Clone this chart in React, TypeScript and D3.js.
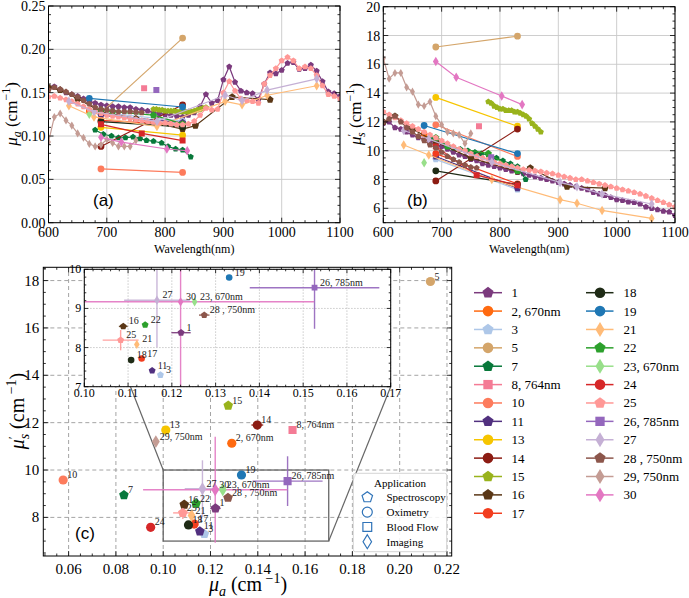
import React from 'react';
import * as d3 from 'd3';

// ---------- series definitions ----------
const SERIES_IDS = ['1','2','3','5','7','8','10','11','13','14','15','16','17','18','19','21','22','23','24','25','26','27','28','29','30'];
const SERIES_LABELS = ['1','2, 670nm','3','5','7','8, 764nm','10','11','13','14','15','16','17','18','19','21','22','23, 670nm','24','25','26, 785nm','27','28 , 750nm','29, 750nm','30'];
const SERIES_COLORS = ['#7b3a7d','#ff6a10','#aec7e8','#d4a56a','#08783a','#f47b95','#fd7b5c','#51307f','#f6c500','#8c1c13','#99b31c','#5a3716','#f23d1e','#1f2b16','#1f77b4','#ffbb78','#2ca02c','#98df8a','#d62728','#ff9896','#9467bd','#c5b0d5','#8c564b','#c49c94','#e377c2'];
const SERIES_MARKERS = ['p','o','p','o','p','s','o','p','o','o','p','p','o','o','o','d','p','d','o','p','s','d','p','d','d'];

// ---------- panel (c) scatter values ----------
const SC_MUA = [0.1221,0.129,0.1174,0.213,0.0834,0.1547,0.0577,0.1155,0.1011,0.1398,0.1275,0.1089,0.1131,0.1107,0.1331,0.1120,0.1139,0.1252,0.0947,0.1083,0.1526,0.1166,0.1274,0.0969,0.1220];
const SC_MUS = [8.38,11.13,7.30,17.96,8.94,11.69,9.58,7.41,11.69,11.90,12.72,8.54,7.72,7.68,9.79,8.08,8.58,9.17,7.58,8.19,9.53,9.21,8.83,11.2,9.17];
const SC_XERR = [0.0022,0,0,0,0,0,0,0,0,0.0025,0,0.001,0,0,0,0,0,0,0,0.0041,0.0148,0.0075,0.0012,0,0.0305];
const SC_YERR = [0,0,0,0,0,0,0,0,0,0,0,0,0,0,0,0,0,0,0,0.26,1.05,1.2,0,0,2.24];

// ---------- spectra for panels (a) and (b) ----------
const WL_DENSE = [600,610,620,630,640,650,660,670,680,690,700,710,720,730,740,750,760,770,780,790,800,810,820,830,840,850,860,870,880,890,900,910,920,930,940,950,960,970,980,990,1000,1010,1020,1030,1040,1050,1060,1070,1080,1090,1100];
const MUA_1 = [0.155,0.157,0.153,0.150,0.148,0.146,0.143,0.140,0.138,0.136,0.135,0.134,0.134,0.133,0.133,0.131,0.130,0.129,0.127,0.126,0.125,0.124,0.123,0.122,0.124,0.127,0.134,0.148,0.138,0.141,0.165,0.180,0.162,0.152,0.150,0.149,0.142,0.160,0.173,0.172,0.176,0.184,0.185,0.177,0.178,0.182,0.175,0.163,0.151,0.149,0.146];
const MUS_1 = [11.9,12.0,11.6,11.5,11.3,11.1,10.9,10.8,10.6,10.4,10.3,10.1,9.9,9.7,9.6,9.4,9.3,9.1,9.0,8.9,8.8,8.7,8.6,8.5,8.4,8.3,8.2,8.1,8.0,7.9,7.8,7.7,7.6,7.5,7.4,7.3,7.1,7.0,6.9,6.75,6.6,6.55,6.45,6.4,6.3,6.1,6.0,5.9,5.8,5.75,5.5];
const MUA_25 = [0.145,0.146,0.144,0.142,0.140,0.137,0.134,0.131,0.128,0.126,0.124,0.123,0.122,0.121,0.120,0.119,0.118,0.117,0.116,0.115,0.115,0.114,0.113,0.113,0.114,0.117,0.124,0.132,0.130,0.131,0.150,0.163,0.152,0.143,0.141,0.140,0.138,0.160,0.170,0.178,0.187,0.191,0.187,0.178,0.180,0.178,0.170,0.158,0.148,0.146,0.143];
const MUS_25 = [12.7,12.5,12.3,12.1,11.9,11.7,11.5,11.3,11.1,10.9,10.7,10.5,10.3,10.1,10.0,9.8,9.6,9.5,9.4,9.2,9.1,9.0,8.9,8.8,8.7,8.65,8.6,8.55,8.45,8.4,8.3,8.2,8.1,8.0,8.0,7.9,7.8,7.7,7.6,7.5,7.4,7.3,7.2,7.1,7.0,6.85,6.7,6.55,6.4,6.25,6.1];

const WL_28 = [600,610,620,630,640,650,660,670,680,690,700,710,720,730,740,750,760];
const MUA_28 = [0.153,0.156,0.154,0.151,0.148,0.145,0.141,0.137,0.133,0.131,0.130,0.129,0.128,0.128,0.128,0.1275,0.127];
const MUS_28 = [12.0,12.2,12.4,12.0,11.6,11.3,11.0,10.7,10.4,10.2,9.9,9.6,9.4,9.2,9.0,8.85,8.8];

const WL_29 = [600,610,620,630,640,650,660,670,680,690,700,710,720,730,740,750];
const MUA_29 = [0.093,0.122,0.126,0.118,0.112,0.103,0.098,0.091,0.088,0.090,0.096,0.092,0.088,0.088,0.088,0.095];
const MUS_29 = [16.4,15.0,15.4,15.4,14.4,14.1,13.2,13.1,13.4,12.4,11.8,11.3,11.2,11.1,10.5,11.2];

const WL_7 = [680,694,708,720,732,745,757,768,780,794,805,818,830,844];
const MUA_7 = [0.107,0.102,0.100,0.098,0.098,0.099,0.097,0.095,0.094,0.092,0.088,0.085,0.084,0.076];
const MUS_7 = [10.9,10.7,10.4,10.2,10.1,10.0,9.9,9.8,9.7,9.5,9.3,9.1,8.9,8.0];

const WL_15 = [780,785,790,795,800,805,810,815,820,825,830,835,840,845,850,855,860,865,870];
const MUA_15 = [0.131,0.131,0.130,0.130,0.129,0.129,0.129,0.129,0.128,0.128,0.128,0.128,0.128,0.128,0.129,0.130,0.131,0.132,0.133];
const MUS_15 = [13.4,13.3,13.1,13.0,12.9,12.9,12.8,12.8,12.8,12.7,12.7,12.6,12.5,12.4,12.2,11.9,11.7,11.5,11.3];

const WL_16 = [600,620,650,690,750,830,852,915,980];
const MUA_16 = [0.156,0.153,0.143,0.128,0.120,0.108,0.112,0.145,0.142];
const MUS_16 = [12.0,12.4,11.5,10.6,9.5,8.55,8.8,7.5,7.4];

const WL_21 = [635,678,786,903,932,975,1060];
const MUA_21 = [0.135,0.122,0.111,0.140,0.136,0.147,0.158];
const MUS_21 = [10.4,9.7,8.0,6.6,6.35,5.85,5.3];

const WL_27 = [635,678,786,903,932,975,1060];
const MUA_27 = [0.140,0.128,0.117,0.147,0.141,0.153,0.166];
const MUS_27 = [11.4,10.8,9.2,7.8,7.5,7.0,6.3];

const WL_30 = [690,725,803,838];
const MUA_30 = [0.0985,0.093,0.085,0.083];
const MUS_30 = [16.2,15.1,13.8,13.2];

const WL_22 = [690,710,780,830];
const MUA_22 = [0.130,0.128,0.124,0.114];
const MUS_22 = [10.9,10.3,9.8,8.6];

const WL_24 = [690,760,830];
const MUA_24 = [0.1135,0.103,0.0947];
const MUS_24 = [10.3,8.3,7.6];

const WL_PAIR = [690,830];
const MUA_3 = [0.127,0.1174]; const MUS_3 = [9.4,7.3];
const MUA_5 = [0.127,0.213]; const MUS_5 = [17.2,17.95];
const MUA_10 = [0.062,0.058]; const MUS_10 = [11.8,9.6];
const MUA_11 = [0.124,0.1155]; const MUS_11 = [9.6,7.4];
const MUA_13 = [0.110,0.101]; const MUS_13 = [13.7,11.7];
const MUA_14 = [0.088,0.136]; const MUS_14 = [7.9,11.5];
const MUA_17 = [0.118,0.113]; const MUS_17 = [9.8,7.7];
const MUA_18 = [0.1165,0.1105]; const MUS_18 = [8.6,7.65];
const WL_19 = [670,830];
const MUA_19 = [0.1435,0.1335]; const MUS_19 = [11.75,9.8];
const WL_2 = [670]; const MUA_2 = [0.129]; const MUS_2 = [11.13];
const WL_23 = [670]; const MUA_23 = [0.1251]; const MUS_23 = [9.17];
const WL_8 = [764]; const MUA_8 = [0.155]; const MUS_8 = [11.7];
const WL_26 = [785]; const MUA_26 = [0.153]; const MUS_26 = [9.55];

// ---------- ticks ----------
const A_XTICKS = [600,700,800,900,1000,1100];
const A_YTICKS = [0,0.05,0.10,0.15,0.20,0.25];
const B_YTICKS = [6,8,10,12,14,16,18,20];
const C_XTICKS = [0.06,0.08,0.10,0.12,0.14,0.16,0.18,0.20,0.22];
const C_YTICKS = [8,10,12,14,16,18];
const I_XTICKS = [0.10,0.11,0.12,0.13,0.14,0.15,0.16,0.17];
const I_YTICKS = [7,8,9,10];
const APP_LABELS = ['Spectroscopy','Oximetry','Blood Flow','Imaging'];
const APP_MARKERS = ['p','o','s','d'];

const SPECTRA = [
  { id: '1', wl: WL_DENSE, mua: MUA_1, mus: MUS_1, dense: true },
  { id: '2', wl: WL_2, mua: MUA_2, mus: MUS_2 },
  { id: '3', wl: WL_PAIR, mua: MUA_3, mus: MUS_3 },
  { id: '5', wl: WL_PAIR, mua: MUA_5, mus: MUS_5 },
  { id: '7', wl: WL_7, mua: MUA_7, mus: MUS_7, dense: true },
  { id: '8', wl: WL_8, mua: MUA_8, mus: MUS_8 },
  { id: '10', wl: WL_PAIR, mua: MUA_10, mus: MUS_10 },
  { id: '11', wl: WL_PAIR, mua: MUA_11, mus: MUS_11 },
  { id: '13', wl: WL_PAIR, mua: MUA_13, mus: MUS_13 },
  { id: '14', wl: WL_PAIR, mua: MUA_14, mus: MUS_14 },
  { id: '15', wl: WL_15, mua: MUA_15, mus: MUS_15, dense: true },
  { id: '16', wl: WL_16, mua: MUA_16, mus: MUS_16 },
  { id: '17', wl: WL_PAIR, mua: MUA_17, mus: MUS_17 },
  { id: '18', wl: WL_PAIR, mua: MUA_18, mus: MUS_18 },
  { id: '19', wl: WL_19, mua: MUA_19, mus: MUS_19 },
  { id: '21', wl: WL_21, mua: MUA_21, mus: MUS_21 },
  { id: '22', wl: WL_22, mua: MUA_22, mus: MUS_22 },
  { id: '23', wl: WL_23, mua: MUA_23, mus: MUS_23 },
  { id: '24', wl: WL_24, mua: MUA_24, mus: MUS_24, marker: 's' },
  { id: '25', wl: WL_DENSE, mua: MUA_25, mus: MUS_25, dense: true },
  { id: '26', wl: WL_26, mua: MUA_26, mus: MUS_26 },
  { id: '27', wl: WL_27, mua: MUA_27, mus: MUS_27 },
  { id: '28', wl: WL_28, mua: MUA_28, mus: MUS_28, dense: true },
  { id: '29', wl: WL_29, mua: MUA_29, mus: MUS_29, dense: true },
  { id: '30', wl: WL_30, mua: MUA_30, mus: MUS_30 },
];

const SERIF = "'Liberation Serif','DejaVu Serif','Times New Roman',serif";
const SANS = "'Liberation Sans','DejaVu Sans',Arial,sans-serif";

function markerPath(m: string, r: number): string {
  if (m === 'o') return `M${r},0A${r},${r},0,1,1,${-r},0A${r},${r},0,1,1,${r},0Z`;
  if (m === 's') { const s = r * 0.88; return `M${-s},${-s}H${s}V${s}H${-s}Z`; }
  if (m === 'd') { const h = r * 1.4, w = r * 0.85; return `M0,${-h}L${w},0L0,${h}L${-w},0Z`; }
  const R = r * 1.1;
  const pts = [0, 1, 2, 3, 4].map(k => {
    const a = -Math.PI / 2 + k * 2 * Math.PI / 5;
    return `${(R * Math.cos(a)).toFixed(2)},${(R * Math.sin(a)).toFixed(2)}`;
  });
  return 'M' + pts.join('L') + 'Z';
}

function idx(id: string) { return SERIES_IDS.indexOf(id); }

function frameTicks(xs: any, ys: any, xMaj: number[], xMinStep: number, yMaj: number[], yMinStep: number, key: string, maj = 5, min = 2.5) {
  const [x0, x1] = xs.range();
  const [y0, y1] = ys.range();
  const [dx0, dx1] = xs.domain();
  const [dy0, dy1] = ys.domain();
  const els: any[] = [];
  const eps = 1e-9;
  const xMin = d3.range(Math.ceil(dx0 / xMinStep - eps) * xMinStep, dx1 + eps, xMinStep).filter(v => !xMaj.some(m => Math.abs(m - v) < xMinStep / 10));
  const yMin = d3.range(Math.ceil(dy0 / yMinStep - eps) * yMinStep, dy1 + eps, yMinStep).filter(v => !yMaj.some(m => Math.abs(m - v) < yMinStep / 10));
  const st = { stroke: '#000', strokeWidth: 0.8 };
  xMaj.forEach((v, i) => { const X = xs(v); els.push(<line key={`${key}xM${i}`} x1={X} x2={X} y1={y0} y2={y0 - maj} {...st} />, <line key={`${key}xMt${i}`} x1={X} x2={X} y1={y1} y2={y1 + maj} {...st} />); });
  xMin.forEach((v, i) => { const X = xs(v); els.push(<line key={`${key}xm${i}`} x1={X} x2={X} y1={y0} y2={y0 - min} {...st} />, <line key={`${key}xmt${i}`} x1={X} x2={X} y1={y1} y2={y1 + min} {...st} />); });
  yMaj.forEach((v, i) => { const Y = ys(v); els.push(<line key={`${key}yM${i}`} y1={Y} y2={Y} x1={x0} x2={x0 + maj} {...st} />, <line key={`${key}yMt${i}`} y1={Y} y2={Y} x1={x1} x2={x1 - maj} {...st} />); });
  yMin.forEach((v, i) => { const Y = ys(v); els.push(<line key={`${key}ym${i}`} y1={Y} y2={Y} x1={x0} x2={x0 + min} {...st} />, <line key={`${key}ymt${i}`} y1={Y} y2={Y} x1={x1} x2={x1 - min} {...st} />); });
  return els;
}

function SpectrumPanel({ xs, ys, field, clipId, yTicks, yFmt, yMinStep, tag, tagX }: any) {
  const [x0, x1] = xs.range();
  const [y0, y1] = ys.range();
  const line = d3.line<[number, number]>().x(d => xs(d[0])).y(d => ys(d[1]));
  return (
    <g>
      <defs><clipPath id={clipId}><rect x={x0} y={y1} width={x1 - x0} height={y0 - y1} /></clipPath></defs>
      {A_XTICKS.map(v => <line key={'gx' + v} x1={xs(v)} x2={xs(v)} y1={y0} y2={y1} stroke="#c8c8c8" strokeWidth={0.9} />)}
      {yTicks.map((v: number) => <line key={'gy' + v} y1={ys(v)} y2={ys(v)} x1={x0} x2={x1} stroke="#c8c8c8" strokeWidth={0.9} />)}
      <g clipPath={`url(#${clipId})`}>
        {SPECTRA.map(s => {
          const i = idx(s.id);
          const col = SERIES_COLORS[i];
          const vals = field === 'mua' ? s.mua : s.mus;
          const pts: [number, number][] = s.wl.map((w, k) => [w, vals[k]]);
          const mk = (s as any).marker || SERIES_MARKERS[i];
          const r = (s as any).dense ? 2.9 : 3.4;
          return (
            <g key={s.id}>
              {pts.length > 1 && <path d={line(pts) || ''} fill="none" stroke={col} strokeWidth={1.2} />}
              {pts.map((p, k) => <path key={k} d={markerPath(mk, r)} transform={`translate(${xs(p[0])},${ys(p[1])})`} fill={col} />)}
            </g>
          );
        })}
      </g>
      <rect x={x0} y={y1} width={x1 - x0} height={y0 - y1} fill="none" stroke="#000" strokeWidth={1} />
      {frameTicks(xs, ys, A_XTICKS, 20, yTicks, yMinStep, clipId)}
      {A_XTICKS.map(v => <text key={'xl' + v} x={xs(v)} y={237} textAnchor="middle" fontSize={14} fontFamily={SERIF}>{v}</text>)}
      {yTicks.map((v: number) => <text key={'yl' + v} x={x0 - 3} y={ys(v) + 5} textAnchor="end" fontSize={14} fontFamily={SERIF}>{yFmt(v)}</text>)}
      <text x={(x0 + x1) / 2} y={253} textAnchor="middle" fontSize={12} fontFamily={SERIF}>Wavelength(nm)</text>
      <text x={tagX} y={206} fontSize={17} fontFamily={SANS}>{tag}</text>
    </g>
  );
}

export default function App() {
  const xA = d3.scaleLinear().domain([600, 1100]).range([48.5, 340]);
  const yA = d3.scaleLinear().domain([0, 0.25]).range([222.7, 6]);
  const xB = d3.scaleLinear().domain([600, 1100]).range([383.3, 675]);
  const yB = d3.scaleLinear().domain([5, 20]).range([222.7, 6.7]);
  const xC = d3.scaleLinear().domain([0.0493, 0.222]).range([43.3, 451.7]);
  const yC = d3.scaleLinear().domain([6.37, 18.56]).range([556, 267.3]);
  const xI = d3.scaleLinear().domain([0.10, 0.17]).range([84.3, 390.7]);
  const yI = d3.scaleLinear().domain([7, 10]).range([386.7, 269.3]);

  const f2 = d3.format('.2f');

  const scatter = (xs: any, ys: any, r: number, fs: number, ldx: number, prefix: string, onlyIn?: boolean) => {
    const items = SERIES_IDS.map((id, i) => ({ id, i }));
    const inside = (i: number) => !onlyIn || (SC_MUA[i] >= 0.10 && SC_MUA[i] <= 0.17 && SC_MUS[i] >= 7 && SC_MUS[i] <= 10);
    return (
      <g>
        {items.filter(d => SC_XERR[d.i] > 0 || SC_YERR[d.i] > 0).map(({ id, i }) => (
          <g key={prefix + 'e' + id} opacity={0.9}>
            {SC_XERR[i] > 0 && <line x1={xs(SC_MUA[i] - SC_XERR[i])} x2={xs(SC_MUA[i] + SC_XERR[i])} y1={ys(SC_MUS[i])} y2={ys(SC_MUS[i])} stroke={SERIES_COLORS[i]} strokeWidth={1.4} />}
            {SC_YERR[i] > 0 && <line y1={ys(SC_MUS[i] - SC_YERR[i])} y2={ys(SC_MUS[i] + SC_YERR[i])} x1={xs(SC_MUA[i])} x2={xs(SC_MUA[i])} stroke={SERIES_COLORS[i]} strokeWidth={1.4} />}
          </g>
        ))}
        {items.map(({ id, i }) => (
          <path key={prefix + 'p' + id} d={markerPath(SERIES_MARKERS[i], r)} transform={`translate(${xs(SC_MUA[i])},${ys(SC_MUS[i])})`} fill={SERIES_COLORS[i]} />
        ))}
        {items.filter(d => inside(d.i)).map(({ id, i }) => (
          <text key={prefix + 't' + id} x={xs(SC_MUA[i]) + ldx} y={ys(SC_MUS[i]) - 2} fontSize={fs} fontFamily={SERIF} fill="#222">{SERIES_LABELS[i]}</text>
        ))}
      </g>
    );
  };

  const [cx0, cx1] = xC.range();
  const [cy0, cy1] = yC.range();
  const [ix0, ix1] = xI.range();
  const [iy0, iy1] = yI.range();

  const legendRow0 = 292.7;
  const legendStep = 18.38;
  const legendCols = [{ lx0: 474, lx1: 502, mx: 488, tx: 511.5 }, { lx0: 586, lx1: 613.5, mx: 600, tx: 623.5 }];

  return (
    <svg width={689} height={598} style={{ position: 'absolute', left: 0, top: 0, background: '#fff' }} fontFamily={SERIF}>
      <rect x={0} y={0} width={689} height={598} fill="#fff" />
      {/* Panel (a) */}
      <SpectrumPanel xs={xA} ys={yA} field="mua" clipId="clipA" yTicks={A_YTICKS} yFmt={f2} yMinStep={0.01} tag="(a)" tagX={93} />
      <text transform="translate(17,114) rotate(-90)" textAnchor="middle" fontSize={17} fontFamily={SERIF}>
        <tspan fontStyle="italic">μ</tspan><tspan fontStyle="italic" fontSize={12} dy={4}>a</tspan><tspan dy={-4}> (cm</tspan><tspan fontSize={12} dy={-7}>−1</tspan><tspan dy={7}>)</tspan>
      </text>
      {/* Panel (b) */}
      <SpectrumPanel xs={xB} ys={yB} field="mus" clipId="clipB" yTicks={B_YTICKS} yFmt={(v: number) => String(v)} yMinStep={0.5} tag="(b)" tagX={407} />
      <text transform="translate(361,114) rotate(-90)" textAnchor="middle" fontSize={17} fontFamily={SERIF}>
        <tspan fontStyle="italic">μ</tspan><tspan fontSize={11} dy={-6}>′</tspan><tspan fontStyle="italic" fontSize={12} dx={-3} dy={10}>s</tspan><tspan dy={-4}> (cm</tspan><tspan fontSize={12} dy={-7}>−1</tspan><tspan dy={7}>)</tspan>
      </text>

      {/* Panel (c) main */}
      <g>
        <defs><clipPath id="clipC"><rect x={cx0} y={cy1} width={cx1 - cx0} height={cy0 - cy1} /></clipPath></defs>
        {C_XTICKS.map(v => <line key={'cgx' + v} x1={xC(v)} x2={xC(v)} y1={cy0} y2={cy1} stroke="#9a9a9a" strokeWidth={0.9} strokeDasharray="4,3" />)}
        {C_YTICKS.map(v => <line key={'cgy' + v} y1={yC(v)} y2={yC(v)} x1={cx0} x2={cx1} stroke="#9a9a9a" strokeWidth={0.9} strokeDasharray="4,3" />)}
        <rect x={xC(0.10)} y={yC(10)} width={xC(0.17) - xC(0.10)} height={yC(7) - yC(10)} fill="none" stroke="#666" strokeWidth={1.3} />
        <line x1={ix0} y1={iy1} x2={xC(0.10)} y2={yC(10)} stroke="#666" strokeWidth={1.2} />
        <line x1={ix1} y1={iy0} x2={xC(0.17)} y2={yC(7)} stroke="#666" strokeWidth={1.2} />
        <g clipPath="url(#clipC)">{scatter(xC, yC, 4.6, 10, 4, 'm')}</g>
        <rect x={cx0} y={cy1} width={cx1 - cx0} height={cy0 - cy1} fill="none" stroke="#000" strokeWidth={1} />
        {frameTicks(xC, yC, C_XTICKS, 0.005, C_YTICKS, 0.5, 'c')}
        {C_XTICKS.map(v => <text key={'cxl' + v} x={xC(v)} y={574} textAnchor="middle" fontSize={15} fontFamily={SERIF}>{f2(v)}</text>)}
        {C_YTICKS.map(v => <text key={'cyl' + v} x={cx0 - 4} y={yC(v) + 5} textAnchor="end" fontSize={15} fontFamily={SERIF}>{v}</text>)}
        <text x={75} y={539} fontSize={17} fontFamily={SANS}>(c)</text>
        <text x={248} y={591} textAnchor="middle" fontSize={20} fontFamily={SERIF}>
          <tspan fontStyle="italic">μ</tspan><tspan fontStyle="italic" fontSize={14} dy={5}>a</tspan><tspan dy={-5}> (cm</tspan><tspan fontSize={14} dy={-8}> −1</tspan><tspan dy={8}>)</tspan>
        </text>
        <text transform="translate(24,411) rotate(-90)" textAnchor="middle" fontSize={20} fontFamily={SERIF}>
          <tspan fontStyle="italic">μ</tspan><tspan fontSize={13} dy={-7}>′</tspan><tspan fontStyle="italic" fontSize={14} dx={-3} dy={12}>s</tspan><tspan dy={-5}> (cm</tspan><tspan fontSize={14} dy={-8}> −1</tspan><tspan dy={8}>)</tspan>
        </text>
      </g>

      {/* Inset */}
      <g>
        <defs><clipPath id="clipI"><rect x={ix0} y={iy1} width={ix1 - ix0} height={iy0 - iy1} /></clipPath></defs>
        <rect x={ix0} y={iy1} width={ix1 - ix0} height={iy0 - iy1} fill="#fff" />
        {I_XTICKS.map(v => <line key={'igx' + v} x1={xI(v)} x2={xI(v)} y1={iy0} y2={iy1} stroke="#b5b5b5" strokeWidth={0.9} strokeDasharray="1.2,1.8" />)}
        {I_YTICKS.map(v => <line key={'igy' + v} y1={yI(v)} y2={yI(v)} x1={ix0} x2={ix1} stroke="#b5b5b5" strokeWidth={0.9} strokeDasharray="1.2,1.8" />)}
        <g clipPath="url(#clipI)">{scatter(xI, yI, 3.3, 10, 5.5, 'i', true)}</g>
        <rect x={ix0} y={iy1} width={ix1 - ix0} height={iy0 - iy1} fill="none" stroke="#000" strokeWidth={1} />
        {frameTicks(xI, yI, I_XTICKS, 0.002, I_YTICKS, 0.2, 'i', 4, 2)}
        {I_XTICKS.map(v => <text key={'ixl' + v} x={xI(v)} y={397} textAnchor="middle" fontSize={12} fontFamily={SERIF}>{f2(v)}</text>)}
        {I_YTICKS.map(v => <text key={'iyl' + v} x={ix0 - 3} y={yI(v) + 4} textAnchor="end" fontSize={12} fontFamily={SERIF}>{v}</text>)}
      </g>

      {/* Application legend */}
      <g>
        <rect x={353.3} y={473.3} width={93.4} height={78.4} rx={2} fill="#fff" fillOpacity={0.85} stroke="#d0d0d0" strokeWidth={0.9} />
        <text x={400} y={486.5} textAnchor="middle" fontSize={11} fontFamily={SERIF}>Application</text>
        {APP_LABELS.map((lab, k) => {
          const y = 497.3 + k * 14.8;
          return (
            <g key={lab}>
              <path d={markerPath(APP_MARKERS[k], 5)} transform={`translate(367.3,${y})`} fill="none" stroke="#2f73b8" strokeWidth={1.2} />
              <text x={386.5} y={y + 4} fontSize={11} fontFamily={SERIF}>{lab}</text>
            </g>
          );
        })}
      </g>

      {/* Series legend */}
      <g>
        {SERIES_IDS.map((id, i) => {
          const col = i < 13 ? 0 : 1;
          const row = i < 13 ? i : i - 13;
          const c = legendCols[col];
          const y = legendRow0 + row * legendStep;
          return (
            <g key={'lg' + id}>
              <line x1={c.lx0} x2={c.lx1} y1={y} y2={y} stroke={SERIES_COLORS[i]} strokeWidth={1.5} />
              <path d={markerPath(SERIES_MARKERS[i], 5.3)} transform={`translate(${c.mx},${y})`} fill={SERIES_COLORS[i]} />
              <text x={c.tx} y={y + 4.5} fontSize={13} fontFamily={SERIF}>{SERIES_LABELS[i]}</text>
            </g>
          );
        })}
      </g>
    </svg>
  );
}
